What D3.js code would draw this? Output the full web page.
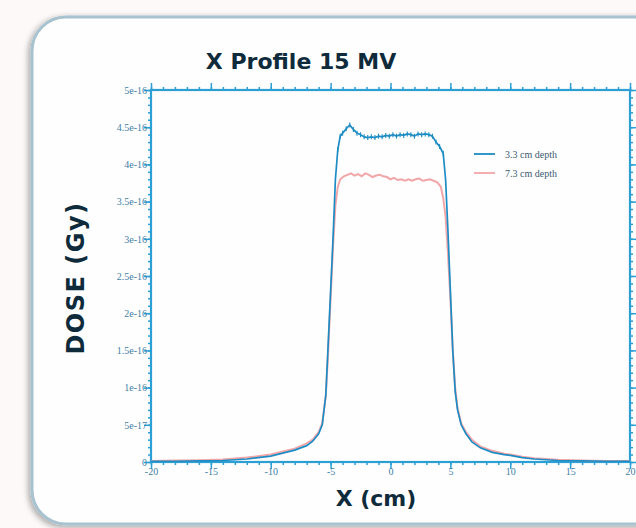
<!DOCTYPE html>
<html>
<head>
<meta charset="utf-8">
<script src="https://cdn.jsdelivr.net/npm/d3@7"></script>
<style>
  body { margin: 0; background: #fcf9f8; }
  svg { display: block; }
</style>
</head>
<body>
<script>
// dose in units of 1e-16 Gy
var xBlue = [-20,-18,-16,-14,-12,-10,-9,-8,-7,-6.5,-6,-5.7,-5.4,-5.2,-5,-4.8,-4.6,-4.4,-4.2,-4,-3.7,-3.4,-3.1,-2.8,-2.5,-2.2,-1.9,-1.6,-1.3,-1,-0.7,-0.4,-0.1,0.2,0.5,0.8,1.1,1.4,1.7,2,2.3,2.6,2.9,3.2,3.5,3.8,4.1,4.4,4.6,4.8,5,5.2,5.4,5.6,5.9,6.3,6.8,7.5,8.5,9.5,10,11,12,14,16,18,20];
var doseBlue = [0.01,0.01,0.015,0.02,0.04,0.08,0.12,0.16,0.22,0.28,0.38,0.5,0.9,1.6,2.3,3.0,3.8,4.2,4.38,4.42,4.48,4.53,4.47,4.42,4.4,4.37,4.36,4.37,4.36,4.38,4.37,4.39,4.38,4.4,4.38,4.4,4.39,4.41,4.4,4.38,4.41,4.4,4.41,4.4,4.38,4.3,4.24,4.15,3.8,3.1,2.3,1.5,0.95,0.7,0.5,0.38,0.27,0.19,0.13,0.1,0.09,0.06,0.04,0.02,0.015,0.01,0.01];

var xPink = [-20,-18,-16,-14,-12,-10,-9,-8,-7,-6.5,-6,-5.7,-5.4,-5.2,-5,-4.8,-4.6,-4.4,-4.2,-3.9,-3.6,-3.3,-3,-2.7,-2.4,-2.1,-1.8,-1.5,-1.2,-0.9,-0.6,-0.3,0,0.3,0.6,0.9,1.2,1.5,1.8,2.1,2.4,2.7,3,3.3,3.6,3.9,4.2,4.4,4.6,4.8,5,5.2,5.4,5.6,5.9,6.3,6.8,7.5,8.5,9.5,10,11,12,14,16,18,20];
var dosePink = [0.015,0.02,0.025,0.035,0.06,0.1,0.14,0.18,0.25,0.3,0.4,0.52,0.9,1.5,2.2,2.9,3.45,3.7,3.8,3.84,3.86,3.88,3.85,3.87,3.84,3.88,3.86,3.83,3.85,3.86,3.84,3.83,3.8,3.82,3.79,3.8,3.78,3.8,3.78,3.8,3.81,3.78,3.79,3.8,3.78,3.76,3.7,3.55,3.3,2.8,2.2,1.5,1.0,0.72,0.52,0.4,0.3,0.21,0.15,0.11,0.1,0.07,0.05,0.03,0.02,0.015,0.015];

var yTicks = [0,0.5,1,1.5,2,2.5,3,3.5,4,4.5,5];
var yTickLabels = ["0","5e-17","1e-16","1.5e-16","2e-16","2.5e-16","3e-16","3.5e-16","4e-16","4.5e-16","5e-16"];
var xTicks = [-20,-15,-10,-5,0,5,10,15,20];
var legendLabels = ["3.3 cm depth","7.3 cm depth"];

var W = 636, H = 528;
var pl = 151, pr = 630, pt = 90, pb = 462;
var axisColor = "#2c9fd4", labelColor = "#3f7fa6";
var blue = "#1e8cc4", pink = "#f2a6a8";

var svg = d3.select("body").append("svg")
  .attr("width", W).attr("height", H);

// panel
var defs = svg.append("defs");
var f = defs.append("filter").attr("id", "sh").attr("x", "-10%").attr("y", "-10%").attr("width", "120%").attr("height", "120%");
f.append("feGaussianBlur").attr("in", "SourceAlpha").attr("stdDeviation", 3);
f.append("feOffset").attr("dx", -2).attr("dy", 2).attr("result", "b");
f.append("feComponentTransfer").append("feFuncA").attr("type", "linear").attr("slope", 0.35);
var fm = f.append("feMerge");
fm.append("feMergeNode");
fm.append("feMergeNode").attr("in", "SourceGraphic");

svg.append("rect")
  .attr("x", 32).attr("y", 17).attr("width", 660).attr("height", 507)
  .attr("rx", 34).attr("ry", 34)
  .attr("fill", "#fefefe").attr("stroke", "#a8c2d0").attr("stroke-width", 3)
  .attr("filter", "url(#sh)");

var x = d3.scaleLinear().domain([-20, 20]).range([pl, pr]);
var y = d3.scaleLinear().domain([0, 5]).range([pb, pt]);

var g = svg.append("g");

// axes with inward ticks
function drawAxis(axis, tr) {
  var a = g.append("g").attr("transform", tr).call(axis);
  a.select(".domain").remove();
  a.selectAll("line").attr("stroke", axisColor).attr("stroke-width", 1.5);
  return a;
}
var minorX = d3.range(-20, 20.01, 1);
var minorY = d3.range(0, 5.01, 0.1);

drawAxis(d3.axisTop(x).tickValues(minorX).tickSize(-3).tickFormat(""), "translate(0," + pb + ")");
drawAxis(d3.axisTop(x).tickValues(xTicks).tickSize(-7).tickFormat(""), "translate(0," + pb + ")");
drawAxis(d3.axisBottom(x).tickValues(minorX).tickSize(-3).tickFormat(""), "translate(0," + pt + ")");
drawAxis(d3.axisBottom(x).tickValues(xTicks).tickSize(-7).tickFormat(""), "translate(0," + pt + ")");
drawAxis(d3.axisRight(y).tickValues(minorY).tickSize(-3).tickFormat(""), "translate(" + pl + ",0)");
drawAxis(d3.axisRight(y).tickValues(yTicks).tickSize(-7).tickFormat(""), "translate(" + pl + ",0)");
drawAxis(d3.axisLeft(y).tickValues(minorY).tickSize(-3).tickFormat(""), "translate(" + pr + ",0)");
drawAxis(d3.axisLeft(y).tickValues(yTicks).tickSize(-7).tickFormat(""), "translate(" + pr + ",0)");

// tick labels
var xl = g.append("g").attr("transform", "translate(0," + pb + ")")
  .call(d3.axisBottom(x).tickValues(xTicks).tickSize(0).tickPadding(6).tickFormat(function(d) { return String(d); }));
xl.select(".domain").remove();
xl.selectAll("text").attr("fill", labelColor).style("font-family", "Liberation Serif").style("font-size", "10px");

var yl = g.append("g").attr("transform", "translate(" + pl + ",0)")
  .call(d3.axisLeft(y).tickValues(yTicks).tickSize(0).tickPadding(4).tickFormat(function(d, i) { return yTickLabels[i]; }));
yl.select(".domain").remove();
yl.selectAll("text").attr("fill", labelColor).style("font-family", "Liberation Serif").style("font-size", "10px");

// frame
g.append("rect").attr("x", pl).attr("y", pt)
  .attr("width", pr - pl).attr("height", pb - pt)
  .attr("fill", "none").attr("stroke", axisColor).attr("stroke-width", 2.2);

// curves
var line = d3.line().x(function(d) { return x(d[0]); }).y(function(d) { return y(d[1]); });
var pinkData = d3.zip(xPink, dosePink);
var blueData = d3.zip(xBlue, doseBlue);

g.append("path").datum(pinkData).attr("d", line)
  .attr("fill", "none").attr("stroke", pink).attr("stroke-width", 2);
g.append("path").datum(blueData).attr("d", line)
  .attr("fill", "none").attr("stroke", blue).attr("stroke-width", 1.7);

// small error marks on the blue plateau
g.selectAll(".err").data(blueData.filter(function(d) { return d[1] > 4.1; }))
  .enter().append("line")
  .attr("x1", function(d) { return x(d[0]); }).attr("x2", function(d) { return x(d[0]); })
  .attr("y1", function(d) { return y(d[1]) - 2.5; }).attr("y2", function(d) { return y(d[1]) + 2.5; })
  .attr("stroke", blue).attr("stroke-width", 1.1);

// legend
var leg = g.append("g").attr("transform", "translate(474,154)");
[blue, pink].forEach(function(c, i) {
  leg.append("line").attr("x1", 0).attr("x2", 21).attr("y1", i * 19).attr("y2", i * 19)
    .attr("stroke", c).attr("stroke-width", 1.8);
  leg.append("text").attr("x", 31).attr("y", i * 19 + 3.5)
    .style("font-family", "Liberation Serif").style("font-size", "10px")
    .attr("fill", "#3a5a70").text(legendLabels[i]);
});

// titles
svg.append("text").attr("x", 301).attr("y", 69).attr("text-anchor", "middle")
  .style("font-family", "DejaVu Sans").style("font-weight", "bold").style("font-size", "22px")
  .attr("fill", "#0f2b3b").text("X Profile 15 MV");

svg.append("text").attr("x", 376).attr("y", 506).attr("text-anchor", "middle")
  .style("font-family", "DejaVu Sans").style("font-weight", "bold").style("font-size", "22px")
  .attr("fill", "#0f2b3b").text("X (cm)");

svg.append("text").attr("transform", "translate(84,278) rotate(-90)").attr("text-anchor", "middle")
  .style("font-family", "DejaVu Sans").style("font-weight", "bold").style("font-size", "24px")
  .style("letter-spacing", "1.5px")
  .attr("fill", "#0f2b3b").text("DOSE (Gy)");
</script>
</body>
</html>
